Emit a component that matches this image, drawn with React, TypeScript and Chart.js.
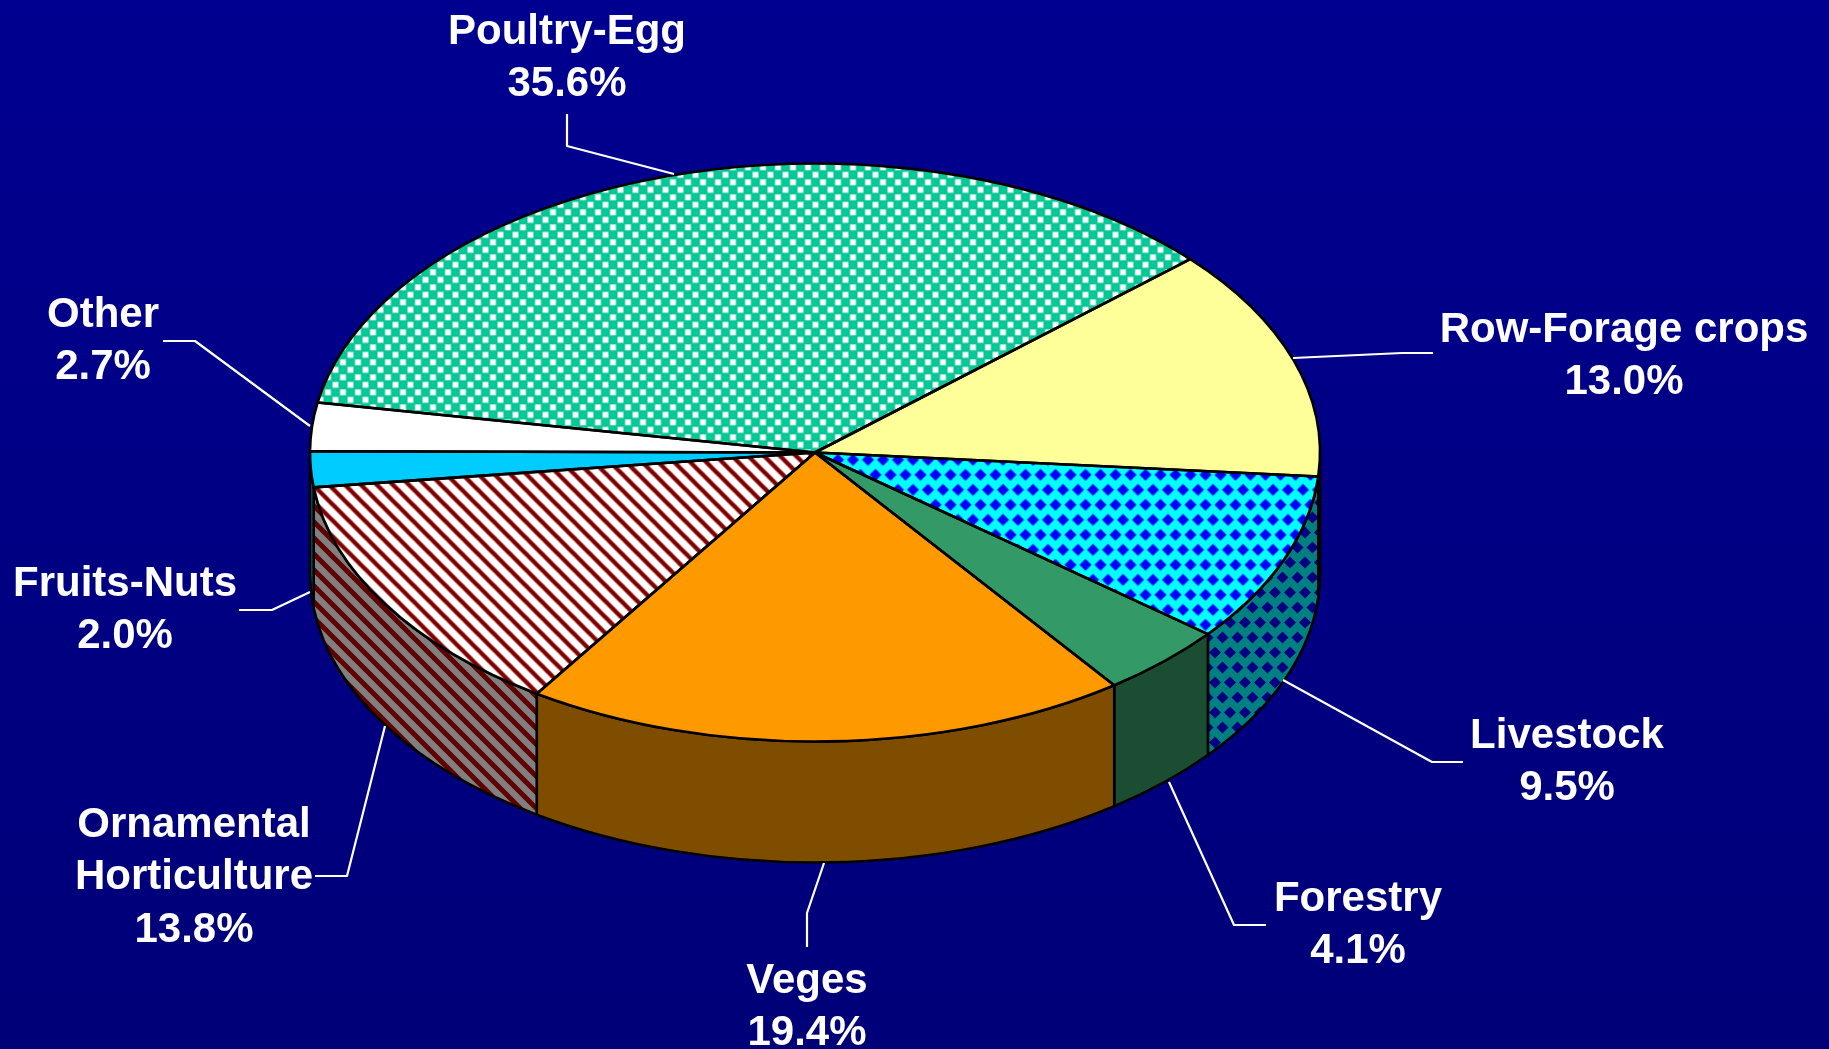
import React, { useEffect, useRef } from "react";
import { Chart, registerables } from "chart.js";

Chart.register(...registerables);

const categories = ["Row-Forage crops", "Livestock", "Forestry", "Veges", "Ornamental Horticulture", "Fruits-Nuts", "Other", "Poultry-Egg"];
const shares = [13.0, 9.5, 4.1, 19.4, 13.8, 2.0, 2.7, 35.6];
const shareLabels = ["13.0%", "9.5%", "4.1%", "19.4%", "13.8%", "2.0%", "2.7%", "35.6%"];

const W = 1829, H = 1049;
const CX = 815, CY = 452.5, RX = 505, RY = 289, DEPTH = 121;
const SY = RY / RX;
const ROTATION = 48.0;
const FONT = 'bold 42px "Liberation Sans", Arial, sans-serif';
const LINE_H = 52.5;

function tile(w: number, h: number, draw: (c: CanvasRenderingContext2D) => void): CanvasPattern {
  const cv = document.createElement("canvas");
  cv.width = w; cv.height = h;
  const c = cv.getContext("2d")!;
  draw(c);
  return c.createPattern(cv, "repeat")!;
}
function diamonds(bg: string, fg: string) {
  return tile(15, 30, (c) => {
    c.fillStyle = bg; c.fillRect(0, 0, 15, 30);
    c.fillStyle = fg;
    for (const [x, y] of [[7.5, 7.5], [0, 22.5], [15, 22.5]]) {
      c.beginPath();
      c.moveTo(x - 6, y); c.lineTo(x, y - 6); c.lineTo(x + 6, y); c.lineTo(x, y + 6); c.closePath();
      c.fill();
    }
  });
}
function stripes(bg: string, fg: string, lw: number) {
  return tile(16, 16, (c) => {
    c.fillStyle = bg; c.fillRect(0, 0, 16, 16);
    c.strokeStyle = fg; c.lineWidth = lw;
    for (const o of [-16, 0, 16]) {
      c.beginPath(); c.moveTo(o - 2, -2); c.lineTo(o + 18, 18); c.stroke();
    }
  });
}
function bubbles() {
  return tile(15, 15, (c) => {
    c.fillStyle = "#00CC99"; c.fillRect(0, 0, 15, 15);
    c.strokeStyle = "#1DB98F"; c.lineWidth = 1;
    for (const [x, y] of [[0, 0], [15, 0], [0, 15], [15, 15], [7.5, 7.5]]) {
      c.beginPath(); c.arc(x, y, 3.6, 0, Math.PI * 2); c.stroke();
    }
    c.fillStyle = "#ffffff";
    for (const [x, y] of [[7.5, 0], [0, 7.5], [15, 7.5], [7.5, 15]]) c.fillRect(x - 2.9, y - 2.9, 5.8, 5.8);
  });
}
function squash(p: CanvasPattern) {
  p.setTransform(new DOMMatrix().scale(1, 1 / SY));
  return p;
}

const labelLayout = [
  { lines: ["Row-Forage crops"], x: 1624, y: 330, leader: [[1433, 353], [1402, 353], [1293, 358]] },
  { lines: ["Livestock"], x: 1567, y: 736, leader: [[1463, 762], [1432, 762], [1283, 680]] },
  { lines: ["Forestry"], x: 1358, y: 899, leader: [[1266, 925], [1234, 925], [1169, 782]] },
  { lines: ["Veges"], x: 807, y: 981, leader: [[807, 947], [807, 913], [824, 863]] },
  { lines: ["Ornamental", "Horticulture"], x: 194, y: 825, leader: [[315, 876], [347, 876], [385, 726]] },
  { lines: ["Fruits-Nuts"], x: 125, y: 584, leader: [[239, 610], [272, 610], [310, 592]] },
  { lines: ["Other"], x: 103, y: 315, leader: [[163, 341], [195, 341], [310, 426]] },
  { lines: ["Poultry-Egg"], x: 567, y: 32, leader: [[567, 114], [567, 146], [674, 174]] },
];

const wallPlugin = {
  id: "wall",
  beforeDraw(chart: any) {
    const { ctx } = chart;
    const g = ctx.createLinearGradient(0, 0, 0, H);
    g.addColorStop(0, "#000090");
    g.addColorStop(1, "#000078");
    ctx.fillStyle = g;
    ctx.fillRect(0, 0, W, H);
  },
  beforeDatasetsDraw(chart: any) {
    const { ctx } = chart;
    const arcs = chart.getDatasetMeta(0).data;
    const walls = chart.data.datasets[0].wallColors;
    arcs.forEach((arc: any, i: number) => {
      const s = Math.max(arc.startAngle, 0) % (Math.PI * 2);
      const e = Math.min(arc.endAngle, Math.PI);
      if (e <= s || arc.startAngle >= Math.PI) return;
      ctx.beginPath();
      ctx.ellipse(CX, CY, RX, RY, 0, s, e, false);
      ctx.lineTo(CX + RX * Math.cos(e), CY + DEPTH + RY * Math.sin(e));
      ctx.ellipse(CX, CY + DEPTH, RX, RY, 0, e, s, true);
      ctx.closePath();
      ctx.fillStyle = walls[i];
      ctx.fill();
      ctx.strokeStyle = "#000";
      ctx.lineWidth = 2.6;
      ctx.lineJoin = "round";
      ctx.stroke();
    });
    const first = arcs[0];
    ctx.save();
    ctx.translate(CX, CY);
    ctx.scale(1, SY);
    ctx.translate(-first.x, -first.y);
  },
  afterDatasetsDraw(chart: any) {
    const { ctx } = chart;
    const arcs = chart.getDatasetMeta(0).data;
    ctx.restore();
    ctx.strokeStyle = "#000";
    ctx.lineWidth = 2.6;
    ctx.lineJoin = "round";
    arcs.forEach((arc: any) => {
      ctx.save();
      ctx.translate(CX, CY);
      ctx.scale(1, SY);
      ctx.beginPath();
      ctx.moveTo(0, 0);
      ctx.arc(0, 0, arc.outerRadius, arc.startAngle, arc.endAngle);
      ctx.closePath();
      ctx.restore();
      ctx.stroke();
    });
  },
  afterDraw(chart: any) {
    const { ctx } = chart;
    ctx.save();
    ctx.strokeStyle = "#fff";
    ctx.lineWidth = 2.2;
    ctx.fillStyle = "#fff";
    ctx.font = FONT;
    ctx.textAlign = "center";
    ctx.textBaseline = "middle";
    labelLayout.forEach((l, i) => {
      ctx.beginPath();
      l.leader.forEach(([x, y], k) => (k ? ctx.lineTo(x, y) : ctx.moveTo(x, y)));
      ctx.stroke();
      const rows = [...l.lines, shareLabels[i]];
      rows.forEach((t, k) => ctx.fillText(t, l.x, l.y + k * LINE_H));
    });
    ctx.restore();
  },
};

export default function App() {
  const ref = useRef<HTMLCanvasElement>(null);
  useEffect(() => {
    const top = [
      "#FFFF99",
      squash(diamonds("#00FFFF", "#0000FF")),
      "#339966",
      "#FF9900",
      squash(stripes("#FFFFFF", "#800000", 4.4)),
      "#00CCFF",
      "#FFFFFF",
      squash(bubbles()),
    ];
    const wallColors = [
      "#808050",
      diamonds("#008080", "#000080"),
      "#1B4D33",
      "#7F4D00",
      stripes("#808080", "#600000", 5),
      "#006680",
      "#808080",
      "#006650",
    ];
    const chart = new Chart(ref.current!, {
      type: "pie",
      data: {
        labels: categories,
        datasets: [{ data: shares, backgroundColor: top as any, borderWidth: 0, wallColors } as any],
      },
      options: {
        responsive: false,
        animation: false,
        rotation: ROTATION,
        radius: RX,
        layout: { padding: 0 },
        plugins: { legend: { display: false }, title: { display: false }, tooltip: { enabled: false } },
      },
      plugins: [wallPlugin],
    });
    return () => chart.destroy();
  }, []);
  return (
    <div style={{ position: "fixed", left: 0, top: 0, width: W, height: H }}>
      <canvas ref={ref} width={W} height={H} style={{ display: "block" }} />
    </div>
  );
}
